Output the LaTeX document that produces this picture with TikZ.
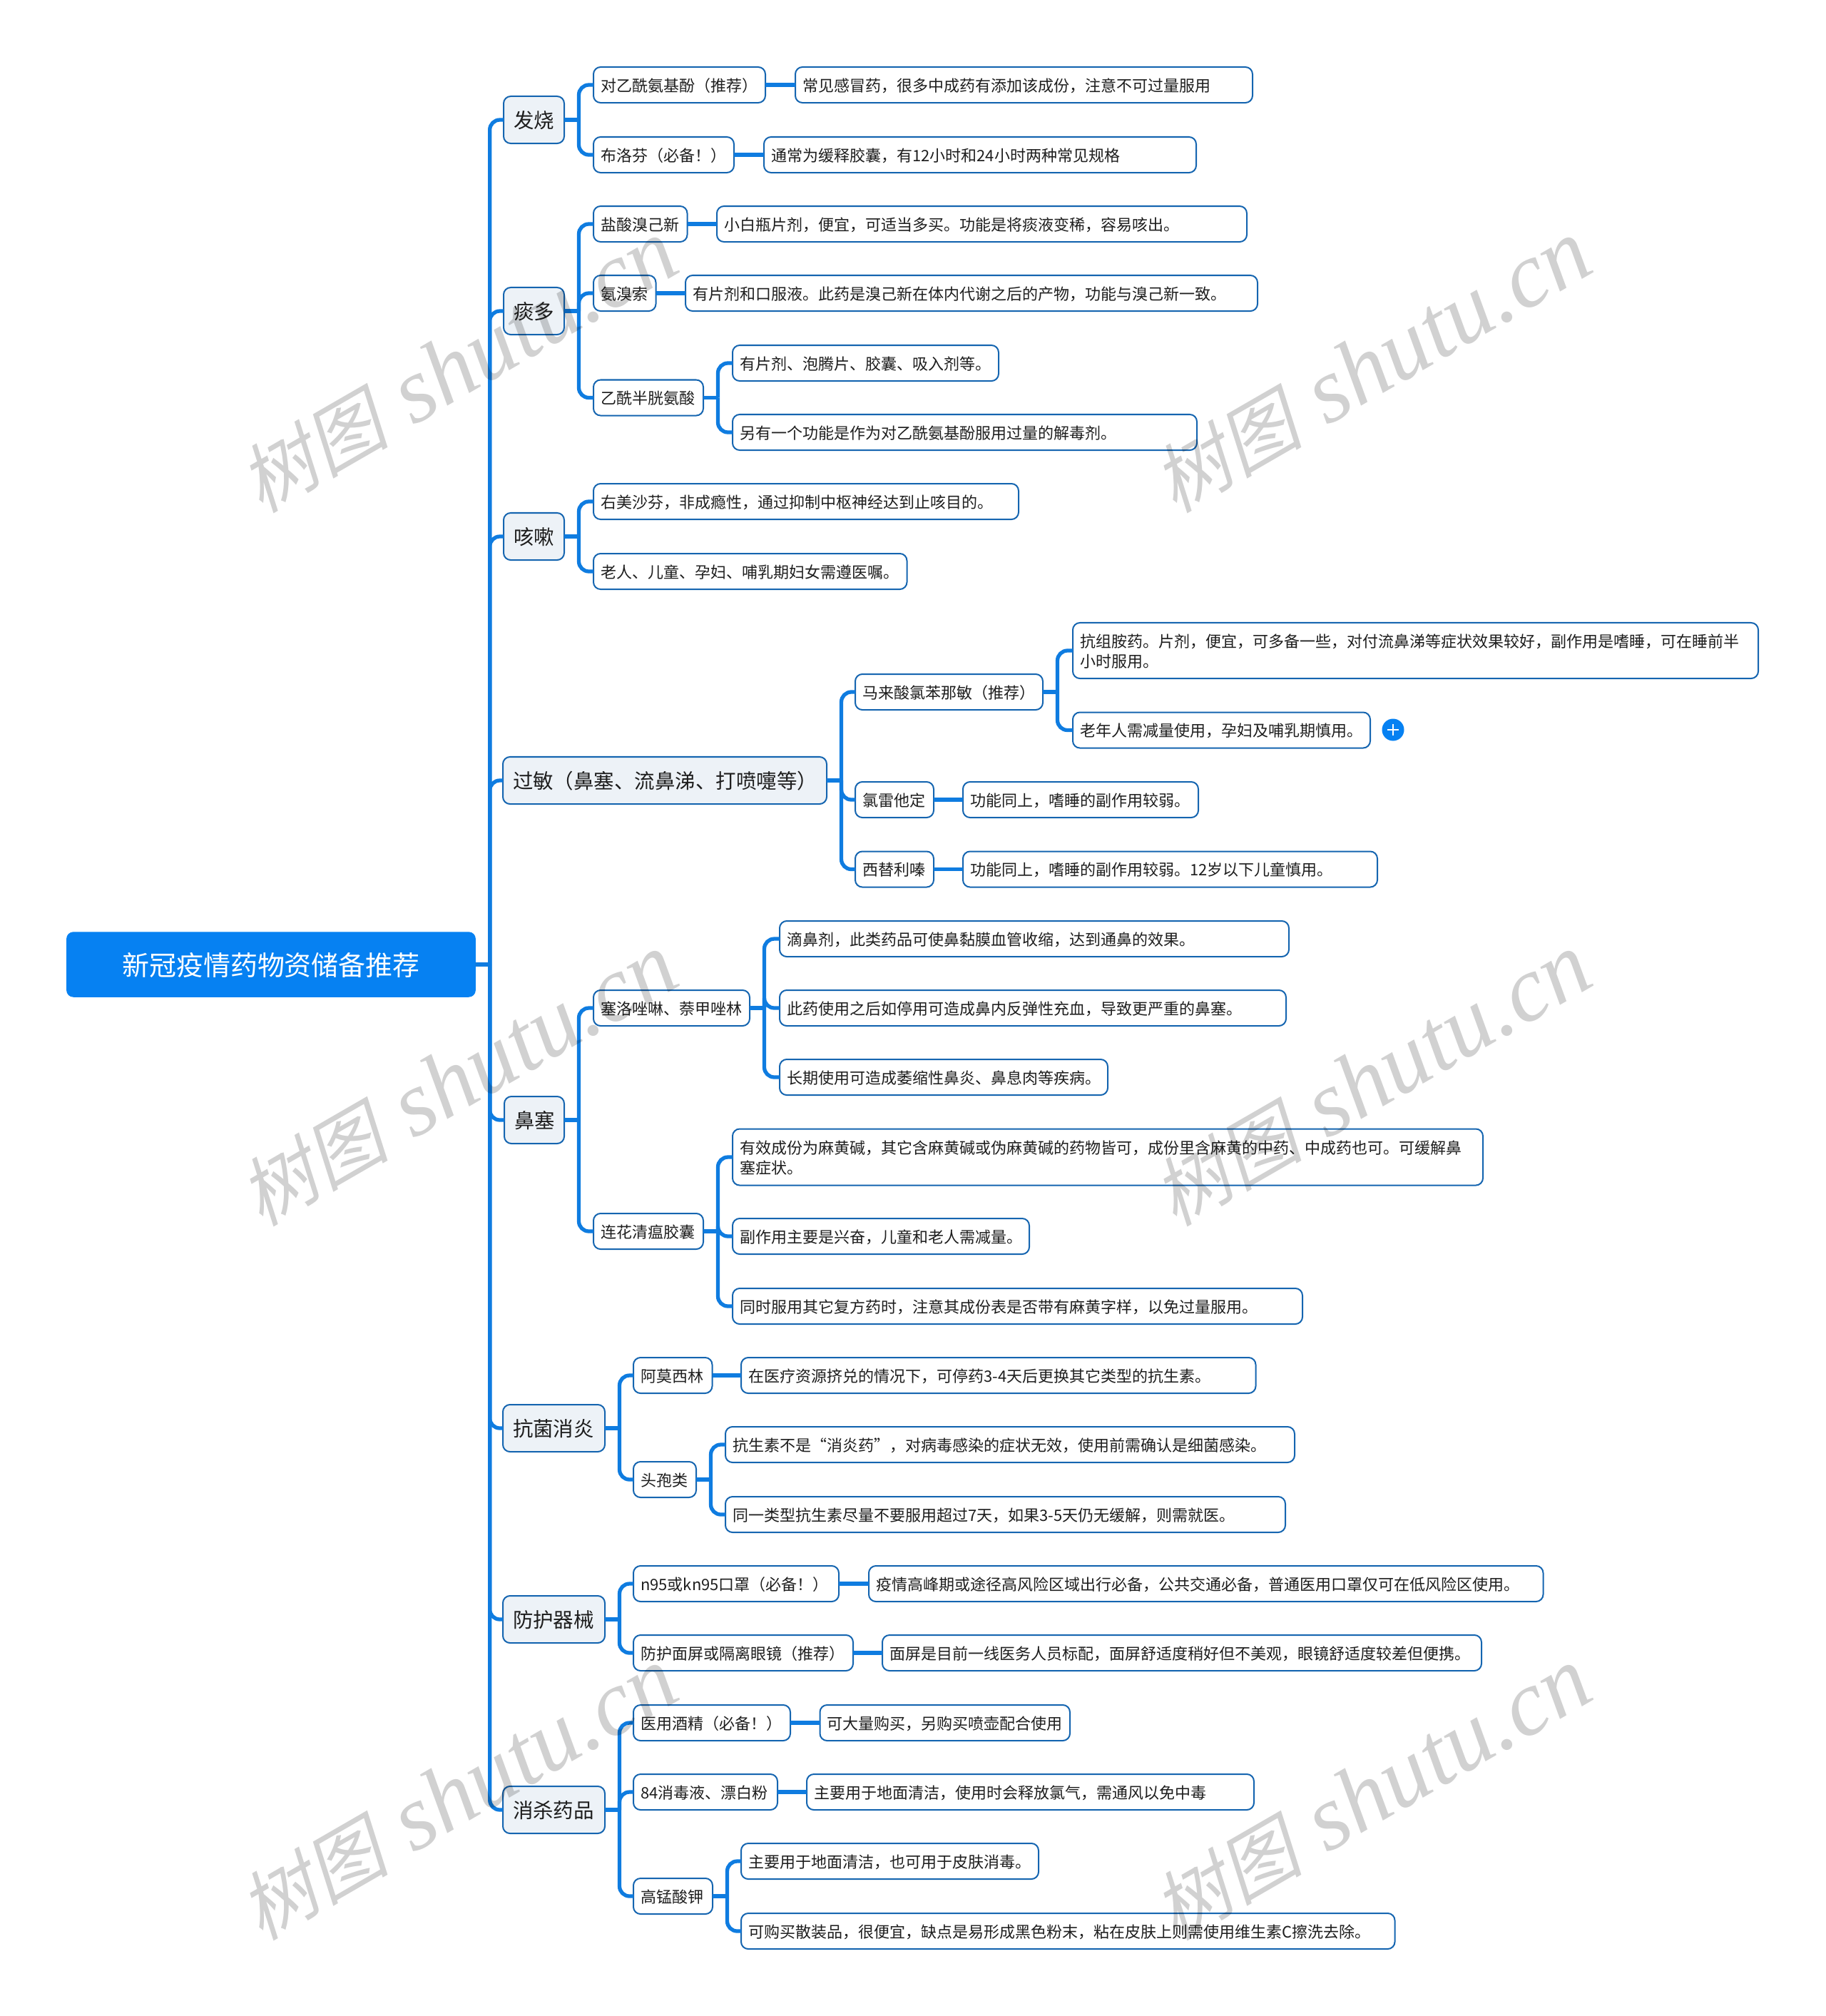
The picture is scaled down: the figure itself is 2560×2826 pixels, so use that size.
\documentclass[tikz,border=0pt]{standalone}
\usepackage{fontspec}
\setmainfont{Noto Sans CJK SC}
\newfontfamily\markcjk[FakeSlant=0.22]{Noto Sans CJK SC}
\newfontfamily\marklatin{Liberation Serif Italic}
\usepackage{xcolor}
\definecolor{linkblue}{HTML}{0F7CE0}
\definecolor{edgeblue}{HTML}{1565B0}
\definecolor{rootblue}{HTML}{0681F2}
\definecolor{mainfill}{HTML}{EDF2F7}
\definecolor{ink}{HTML}{1E1E1E}
\newcommand{\mstrut}{\vrule width 0pt height 1.06em depth .22em}
\newcommand{\branch}[2]{\draw[link] (#1.east) -- ++(20.5,0); \draw[link,rounded corners=.14cm] (#1.east) ++(20.5,0) |- (#2.west);}
\tikzset{
  link/.style={linkblue,line width=1.5pt},
  rootnode/.style={draw=rootblue,fill=rootblue,rounded corners=.09cm,outer sep=0pt,minimum width=5.72cm,minimum height=.9cm,inner sep=0pt,text=white,font=\fontsize{10.8pt}{13pt}\selectfont,execute at begin node=\mstrut},
  mainnode/.style={draw=edgeblue,fill=mainfill,line width=.57pt,rounded corners=.1cm,outer sep=0pt,anchor=west,inner xsep=.14cm,inner ysep=0pt,minimum height=.66cm,align=left,text=ink,font=\fontsize{8.1pt}{10pt}\selectfont,text width=(#1-28)*.01cm,execute at begin node=\mstrut,execute at end node=\mstrut},
  leaf/.style={draw=edgeblue,fill=white,line width=.57pt,rounded corners=.1cm,outer sep=0pt,anchor=west,inner xsep=.1cm,inner ysep=0pt,minimum height=.5cm,align=left,text=ink,font=\fontsize{6.26pt}{8.1pt}\selectfont,text width=(#1-20)*.01cm,execute at begin node=\mstrut,execute at end node=\mstrut},
  plusdot/.style={fill=rootblue,circle,minimum size=.31cm,inner sep=0pt},
  shutumark/.style={black,opacity=.18,rotate=30,inner sep=0pt},
}
\newcommand{\shututext}{{\fontsize{30pt}{34pt}\selectfont\markcjk 树图}\kern 10pt{\fontsize{37pt}{42pt}\selectfont\marklatin shutu.cn}}
\begin{document}
\begin{tikzpicture}[x=.01cm,y=-.01cm]
\useasboundingbox (0,0) rectangle (2560,2826);

\node[rootnode] (root) at (380,1352) {新冠疫情药物资储备推荐};

% fever
\node[mainnode=85] (fever) at (706,168) {发烧};
\node[leaf=241] (acet) at (832,119) {对乙酰氨基酚（推荐）};
\node[leaf=641] (acetnote) at (1115,119) {常见感冒药，很多中成药有添加该成份，注意不可过量服用};
\node[leaf=197] (ibu) at (832,217) {布洛芬（必备！）};
\node[leaf=606] (ibunote) at (1071,217) {通常为缓释胶囊，有12小时和24小时两种常见规格};

% phlegm
\node[mainnode=85] (phlegm) at (706,436) {痰多};
\node[leaf=131.5] (brom) at (832,314) {盐酸溴己新};
\node[leaf=743] (bromnote) at (1005,314) {小白瓶片剂，便宜，可适当多买。功能是将痰液变稀，容易咳出。};
\node[leaf=87.5] (ambr) at (832,411) {氨溴索};
\node[leaf=802] (ambrnote) at (961,411) {有片剂和口服液。此药是溴己新在体内代谢之后的产物，功能与溴己新一致。};
\node[leaf=154] (nac) at (832,557.5) {乙酰半胱氨酸};
\node[leaf=373] (nacform) at (1027,509) {有片剂、泡腾片、胶囊、吸入剂等。};
\node[leaf=651] (nacuse) at (1027,606) {另有一个功能是作为对乙酰氨基酚服用过量的解毒剂。};

% cough
\node[mainnode=85] (cough) at (706,752) {咳嗽};
\node[leaf=596] (dexa) at (832,703) {右美沙芬，非成瘾性，通过抑制中枢神经达到止咳目的。};
\node[leaf=439.5] (dexb) at (832,801) {老人、儿童、孕妇、哺乳期妇女需遵医嘱。};

% allergy
\node[mainnode=454] (allergy) at (705,1094) {过敏（鼻塞、流鼻涕、打喷嚏等）};
\node[leaf=263] (chlor) at (1199,970) {马来酸氯苯那敏（推荐）};
\node[leaf=961,minimum height=.78cm] (chlora) at (1504,912) {抗组胺药。片剂，便宜，可多备一些，对付流鼻涕等症状效果较好，副作用是嗜睡，可在睡前半\\小时服用。};
\node[leaf=417] (chlorb) at (1504,1023.5) {老年人需减量使用，孕妇及哺乳期慎用。};
\node[plusdot] (more) at (1953,1023) {};
\draw[white,line width=.7pt] (more.center) ++(-8,0) -- ++(16,0) (more.center) ++(0,-8) -- ++(0,16);
\node[leaf=110] (lora) at (1199,1121) {氯雷他定};
\node[leaf=330] (loranote) at (1350,1121) {功能同上，嗜睡的副作用较弱。};
\node[leaf=110] (ceti) at (1199,1218.5) {西替利嗪};
\node[leaf=581] (cetinote) at (1350,1218.5) {功能同上，嗜睡的副作用较弱。12岁以下儿童慎用。};

% stuffy nose
\node[mainnode=84] (nose) at (707,1570) {鼻塞};
\node[leaf=219] (xylo) at (832,1413) {塞洛唑啉、萘甲唑林};
\node[leaf=714] (xyloa) at (1093,1316) {滴鼻剂，此类药品可使鼻黏膜血管收缩，达到通鼻的效果。};
\node[leaf=710] (xylob) at (1093,1413) {此药使用之后如停用可造成鼻内反弹性充血，导致更严重的鼻塞。};
\node[leaf=460] (xyloc) at (1093,1510) {长期使用可造成萎缩性鼻炎、鼻息肉等疾病。};
\node[leaf=154] (lianhua) at (832,1726) {连花清瘟胶囊};
\node[leaf=1052,minimum height=.79cm] (lianhuaa) at (1027,1622) {有效成份为麻黄碱，其它含麻黄碱或伪麻黄碱的药物皆可，成份里含麻黄的中药、中成药也可。可缓解鼻\\塞症状。};
\node[leaf=416] (lianhuab) at (1027,1733) {副作用主要是兴奋，儿童和老人需减量。};
\node[leaf=799] (lianhuac) at (1027,1831) {同时服用其它复方药时，注意其成份表是否带有麻黄字样，以免过量服用。};

% antibiotics
\node[mainnode=143] (anti) at (705,2002) {抗菌消炎};
\node[leaf=110.5] (amox) at (888,1928) {阿莫西林};
\node[leaf=721.5] (amoxnote) at (1039,1928) {在医疗资源挤兑的情况下，可停药3-4天后更换其它类型的抗生素。};
\node[leaf=88] (ceph) at (888,2074) {头孢类};
\node[leaf=798] (cepha) at (1017,2025) {抗生素不是“消炎药”，对病毒感染的症状无效，使用前需确认是细菌感染。};
\node[leaf=785] (cephb) at (1017,2123) {同一类型抗生素尽量不要服用超过7天，如果3-5天仍无缓解，则需就医。};

% protection
\node[mainnode=143] (guard) at (705,2270) {防护器械};
\node[leaf=288] (mask) at (888,2220) {n95或kn95口罩（必备！）};
\node[leaf=945.5] (masknote) at (1218,2220) {疫情高峰期或途径高风险区域出行必备，公共交通必备，普通医用口罩仅可在低风险区使用。};
\node[leaf=308] (shield) at (888,2317) {防护面屏或隔离眼镜（推荐）};
\node[leaf=840] (shieldnote) at (1237,2317) {面屏是目前一线医务人员标配，面屏舒适度稍好但不美观，眼镜舒适度较差但便携。};

% disinfectants
\node[mainnode=143] (clean) at (705,2537) {消杀药品};
\node[leaf=220] (alco) at (888,2415) {医用酒精（必备！）};
\node[leaf=350.5] (alconote) at (1149.5,2415) {可大量购买，另购买喷壶配合使用};
\node[leaf=202] (bleach) at (888,2512) {84消毒液、漂白粉};
\node[leaf=627] (bleachnote) at (1131,2512) {主要用于地面清洁，使用时会释放氯气，需通风以免中毒};
\node[leaf=111] (kmno) at (888,2658) {高锰酸钾};
\node[leaf=417] (kmnoa) at (1039,2609) {主要用于地面清洁，也可用于皮肤消毒。};
\node[leaf=916.5] (kmnob) at (1039,2707) {可购买散装品，很便宜，缺点是易形成黑色粉末，粘在皮肤上则需使用维生素C擦洗去除。};

% connectors
\branch{root}{fever} \branch{root}{phlegm} \branch{root}{cough} \branch{root}{allergy}
\branch{root}{nose} \branch{root}{anti} \branch{root}{guard} \branch{root}{clean}
\branch{fever}{acet} \branch{fever}{ibu}
\draw[link] (acet) -- (acetnote); \draw[link] (ibu) -- (ibunote);
\branch{phlegm}{brom} \branch{phlegm}{ambr} \branch{phlegm}{nac}
\draw[link] (brom) -- (bromnote); \draw[link] (ambr) -- (ambrnote);
\branch{nac}{nacform} \branch{nac}{nacuse}
\branch{cough}{dexa} \branch{cough}{dexb}
\branch{allergy}{chlor} \branch{allergy}{lora} \branch{allergy}{ceti}
\branch{chlor}{chlora} \branch{chlor}{chlorb}
\draw[link] (lora) -- (loranote); \draw[link] (ceti) -- (cetinote);
\branch{nose}{xylo} \branch{nose}{lianhua}
\branch{xylo}{xyloa} \branch{xylo}{xylob} \branch{xylo}{xyloc}
\branch{lianhua}{lianhuaa} \branch{lianhua}{lianhuab} \branch{lianhua}{lianhuac}
\branch{anti}{amox} \branch{anti}{ceph}
\draw[link] (amox) -- (amoxnote);
\branch{ceph}{cepha} \branch{ceph}{cephb}
\branch{guard}{mask} \branch{guard}{shield}
\draw[link] (mask) -- (masknote); \draw[link] (shield) -- (shieldnote);
\branch{clean}{alco} \branch{clean}{bleach} \branch{clean}{kmno}
\draw[link] (alco) -- (alconote); \draw[link] (bleach) -- (bleachnote);
\branch{kmno}{kmnoa} \branch{kmno}{kmnob}

% watermark
\node[shutumark] (marka) at (642,514) {\shututext};
\node[shutumark] (markb) at (1923,514) {\shututext};
\node[shutumark] (markc) at (642,1514) {\shututext};
\node[shutumark] (markd) at (1923,1514) {\shututext};
\node[shutumark] (marke) at (642,2515) {\shututext};
\node[shutumark] (markf) at (1923,2515) {\shututext};
\end{tikzpicture}
\end{document}
